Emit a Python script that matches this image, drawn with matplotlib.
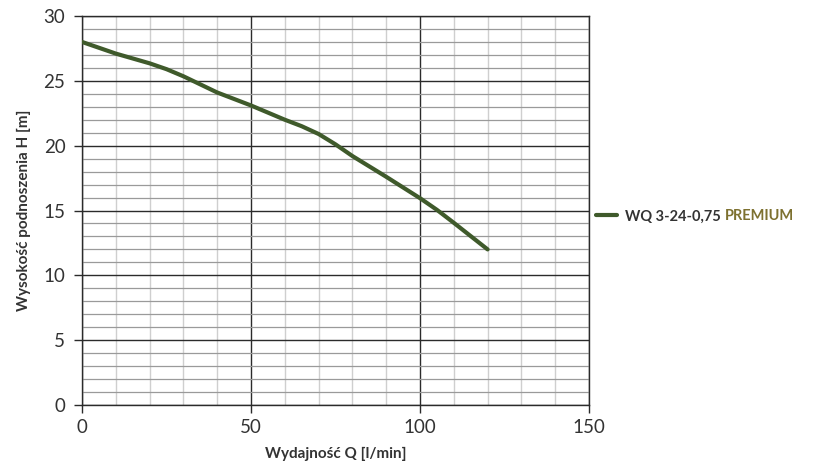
import numpy as np
import matplotlib.pyplot as plt
from matplotlib.ticker import MultipleLocator

plt.rcParams['font.family'] = ['Lato', 'DejaVu Sans']

Q = [0, 10, 20, 25, 30, 40, 50, 60, 65, 70, 75, 80, 90, 100, 105, 110, 120]
H = [28, 27.1, 26.35, 25.9, 25.35, 24.1, 23.1, 22.0, 21.5, 20.9, 20.1, 19.2, 17.6, 15.95, 15.05, 14.05, 12.0]
label = "WQ 3-24-0,75"
label2 = "PREMIUM"

txtc = '#333333'
fig = plt.figure(figsize=(8.13, 4.68), dpi=100)
ax = fig.add_axes([0.1009, 0.1346, 0.6236, 0.8312])

ax.plot(Q, H, color='#3f5a2b', lw=3, solid_capstyle='round', solid_joinstyle='round',
        label=label, zorder=3)

ax.set_xlim(0, 150)
ax.set_ylim(0, 30)
ax.xaxis.set_major_locator(MultipleLocator(50))
ax.xaxis.set_minor_locator(MultipleLocator(10))
ax.yaxis.set_major_locator(MultipleLocator(5))
ax.yaxis.set_minor_locator(MultipleLocator(1))

ax.grid(which='major', axis='both', color='#2b2b2b', lw=1.0)
ax.grid(which='minor', axis='x', color='#cfcfcf', lw=1.0)
ax.grid(which='minor', axis='y', color='#9a9a9a', lw=0.9)
ax.set_axisbelow(True)

for s in ax.spines.values():
    s.set_color('#2b2b2b')
    s.set_linewidth(1.0)

ax.tick_params(which='major', length=6, width=1, color='#2b2b2b', labelsize=13.5, labelcolor=txtc)
ax.tick_params(axis='x', pad=4)
ax.tick_params(axis='y', pad=6)
ax.tick_params(which='minor', length=0)

ax.set_xlabel("Wydajność Q [l/min]", fontsize=11, fontweight='bold', color=txtc, labelpad=8)
ax.set_ylabel("Wysokość podnoszenia H [m]", fontsize=11, fontweight='bold', color=txtc, labelpad=9)

leg = ax.legend(loc='center left', bbox_to_anchor=(1.0, 0.485), frameon=False,
                handlelength=1.4, handletextpad=0.6, borderaxespad=0.1,
                prop={'size': 10.5, 'weight': 'bold'})
for t in leg.get_texts():
    t.set_color(txtc)

# second, coloured part of the legend label
fig.canvas.draw()
bb = leg.get_texts()[0].get_window_extent().transformed(fig.transFigure.inverted())
fig.text(bb.x1 + 0.005, bb.y0, label2, va='bottom', ha='left',
         fontsize=10.5, fontweight='bold', color='#7d7130')

fig.savefig('out.png', dpi=100)
